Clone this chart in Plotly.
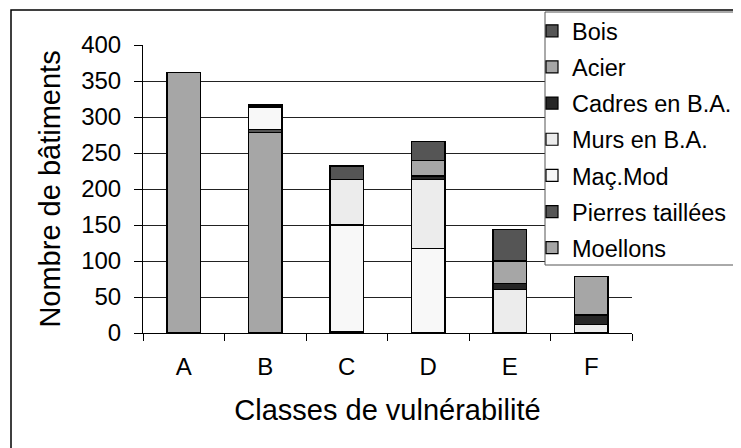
import plotly.graph_objects as go

# Classes de vulnérabilité
classes = ["A", "B", "C", "D", "E", "F"]

# Nombre de bâtiments par type (empilés de bas en haut)
moellons = [362, 279, 0, 0, 0, 0]
pierres_taillees = [0, 4, 2, 0, 0, 0]
mac_mod = [0, 31, 148, 117, 0, 0]
murs_ba = [0, 2, 63, 96, 60, 12]
cadres_ba = [0, 1, 0, 5, 9, 13]
acier = [0, 0, 0, 22, 31, 54]
bois = [0, 0, 19, 26, 44, 0]

series = [
    ("Moellons", moellons, "#a6a6a6"),
    ("Pierres taillées", pierres_taillees, "#555555"),
    ("Maç.Mod", mac_mod, "#f8f8f8"),
    ("Murs en B.A.", murs_ba, "#ececec"),
    ("Cadres en B.A.", cadres_ba, "#262626"),
    ("Acier", acier, "#a6a6a6"),
    ("Bois", bois, "#555555"),
]

# page body adds 8px offset, so work in page coords and shift
OFF = 8
W, H = 741 - OFF, 448 - OFF
plot_l, plot_r, plot_t, plot_b = 143, 632, 45, 333
L = plot_l - OFF
T = plot_t - OFF
R = W - (plot_r - OFF)
B = H - (plot_b - OFF)
pw, ph = W - L - R, H - T - B

fig = go.Figure()
n = len(series)
for i, (name, vals, col) in enumerate(series):
    fig.add_trace(go.Bar(
        x=classes, y=vals, name=name, legendgroup=name,
        legendrank=n - i,
        marker=dict(color=col, line=dict(color="black", width=1.2)),
    ))

def px_x(p):
    return (p - OFF - L) / pw

def px_y(p):
    return (H - B - (p - OFF)) / ph

# outer chart frame
fig.add_shape(type="rect", xref="paper", yref="paper",
              x0=px_x(11), x1=px_x(760), y0=px_y(10), y1=px_y(470),
              line=dict(color="black", width=1.5), fillcolor="rgba(0,0,0,0)",
              layer="below")
# legend box
fig.add_shape(type="rect", xref="paper", yref="paper",
              x0=px_x(545), x1=px_x(760), y0=px_y(12), y1=px_y(265),
              line=dict(color="#555555", width=1), fillcolor="white",
              layer="above")

fig.update_layout(
    width=W, height=H,
    margin=dict(l=L, r=R, t=T, b=B, autoexpand=False),
    barmode="stack",
    bargap=0.59,
    plot_bgcolor="white",
    paper_bgcolor="white",
    font=dict(family="Liberation Sans, Arial, sans-serif", color="black", size=24),
    xaxis=dict(
        title=dict(text="Classes de vulnérabilité", font=dict(size=29), standoff=20),
        showline=True, linecolor="black", linewidth=1,
        ticks="outside", ticklen=7, tickcolor="black", tickson="boundaries",
        showgrid=False, ticklabelstandoff=12,
    ),
    yaxis=dict(
        title=dict(text="Nombre de bâtiments", font=dict(size=29), standoff=12),
        range=[0, 400], dtick=50,
        showline=True, linecolor="black", linewidth=1,
        ticks="outside", ticklen=8, tickcolor="black",
        showgrid=True, gridcolor="#222222", gridwidth=1,
        zeroline=False, ticklabelstandoff=8,
    ),
    legend=dict(
        xref="container", yref="container",
        x=(532 - OFF) / W, y=1 - (9 - OFF) / H,
        xanchor="left", yanchor="top",
        bgcolor="rgba(0,0,0,0)", borderwidth=0,
        traceorder="grouped", tracegroupgap=2.6,
        maxheight=320,
        font=dict(size=23.5),
    ),
)

fig.write_html("out.html")
